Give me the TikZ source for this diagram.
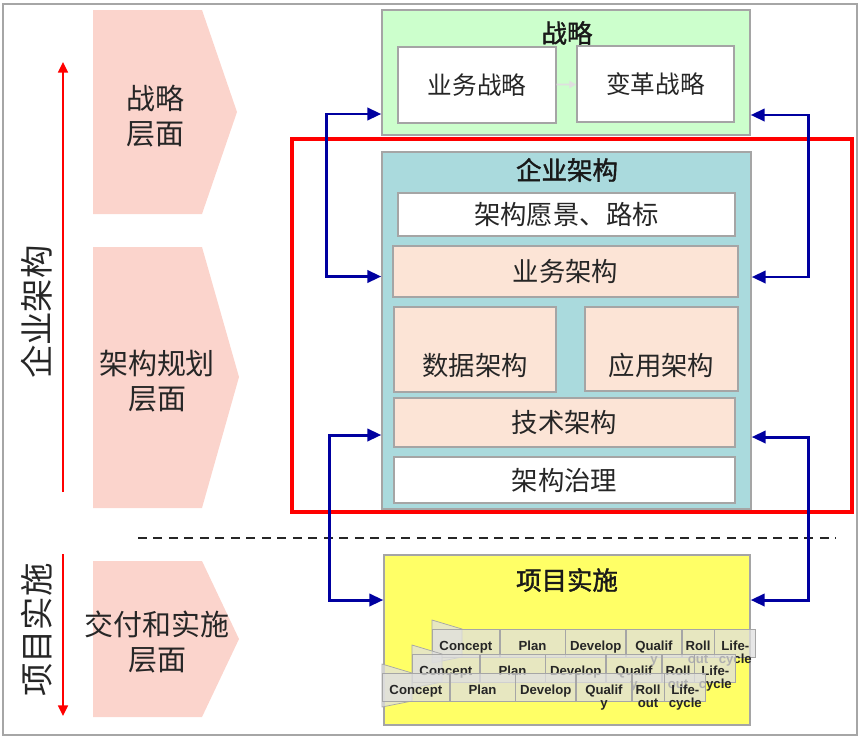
\documentclass[tikz,border=0pt]{standalone}
\usepackage{fontspec}
\setmainfont{Noto Sans CJK SC}
\newfontfamily\cjkbold[FakeBold=1.5]{Noto Sans CJK SC}
\newfontfamily\latin{Liberation Sans}
\usetikzlibrary{arrows.meta,positioning,calc}
\definecolor{chevpink}{RGB}{251,212,204}
\definecolor{stratgreen}{RGB}{204,255,204}
\definecolor{eateal}{RGB}{170,218,221}
\definecolor{layerpeach}{RGB}{252,228,214}
\definecolor{projyellow}{RGB}{255,255,102}
\definecolor{connblue}{RGB}{0,0,160}
\definecolor{boxgray}{RGB}{165,165,165}
\definecolor{cellfill}{RGB}{223,223,223}
\newcommand\two[2]{\begin{tabular}[t]{@{}c@{}}#1\\[-1.5pt]#2\end{tabular}}

\begin{document}
\begin{tikzpicture}[x=0.02cm, y=-0.02cm,
      chevtext/.style={align=center, font=\fontsize{16.5}{19.8}\selectfont, text=black!85},
      sidetext/.style={rotate=90, font=\fontsize{19}{22}\selectfont, text=black!85},
      box/.style={draw=boxgray, line width=0.8pt, inner sep=0pt},
      layer/.style={box, fill=layerpeach, font=\fontsize{15}{18}\selectfont, text=black!85},
      plain/.style={box, fill=white, font=\fontsize{15}{18}\selectfont, text=black!85},
      title/.style={font=\cjkbold\fontsize{14.5}{17}\selectfont, text=black!90},
      cell/.style={draw=gray!70, fill=cellfill, fill opacity=0.75, text opacity=1,
                   inner sep=0pt, minimum height=0.56cm,
                   text height=1.6ex, text depth=0pt, text=black!85,
                   font=\latin\bfseries\fontsize{7.5}{9}\selectfont},
      redarr/.style={red, line width=1.4pt, -{Triangle[length=6pt,width=5.5pt]}},
      conn/.style={connblue, line width=1.7pt,
                   {Triangle[length=8pt,width=7pt]}-{Triangle[length=8pt,width=7pt]}}
    ]
      \useasboundingbox (0,0) rectangle (865,744);
      \draw[gray!70, line width=0.6pt] (3,4) rectangle (857,735);

      % level chevrons on the left
      \fill[chevpink] (93,10) -- (202,10) -- (237,112) -- (202,214) -- (93,214) -- cycle;
      \fill[chevpink] (93,247) -- (202,247) -- (239,377) -- (202,508) -- (93,508) -- cycle;
      \fill[chevpink] (93,561) -- (202,561) -- (239,639) -- (202,717) -- (93,717) -- cycle;
      \node[chevtext] (lvStrat) at (155,116) {战略\\层面};
      \node[chevtext] (lvPlan) at (157,381) {架构规划\\层面};
      \node[chevtext] (lvDeliv) at (157,642) {交付和实施\\层面};

      % side arrows and labels
      \coordinate (eaTop) at (63,62);
      \coordinate (eaBot) at (63,492);
      \coordinate (pjTop) at (63,554);
      \coordinate (pjBot) at (63,716);
      \draw[redarr] (eaBot) -- (eaTop);
      \draw[redarr] (pjTop) -- (pjBot);
      \node[sidetext] (eaLbl) at (37,312) {企业架构};
      \node[sidetext] (pjLbl) at (37,630) {项目实施};

      % strategy
      \node[box, fill=stratgreen, minimum width=7.36cm, minimum height=2.5cm] (strat) at (566,72.5) {};
      \node[title] (stratT) at (567,33) {战略};
      \node[plain, font=\fontsize{14}{17}\selectfont, minimum width=3.16cm, minimum height=1.52cm] (yw) at (477,85) {业务战略};
      \node[plain, font=\fontsize{14}{17}\selectfont, minimum width=3.14cm, minimum height=1.52cm] (bg) at (655.5,84) {变革战略};
      \draw[gray!25, line width=1pt, -{Triangle[length=4pt,width=4pt]}] (yw) -- (bg);

      % enterprise architecture
      \node[box, fill=eateal, minimum width=7.38cm, minimum height=7.14cm] (ea) at (566.5,330.5) {};
      \node[title] (eaT) at (567,170) {企业架构};
      \node[plain, minimum width=6.74cm, minimum height=0.86cm] (vision) at (566.5,214.5) {架构愿景、路标};
      \node[layer, minimum width=6.9cm, minimum height=1.02cm] (ba) at (565.5,271.5) {业务架构};
      \node[layer, minimum width=3.24cm, minimum height=1.7cm] (da) at (475,349.5) {};
      \node[layer, minimum width=3.06cm, minimum height=1.68cm] (aa) at (661.5,349) {};
      \node[layer, draw=none, fill=none] (daT) at ($(da.south)+(0,-27)$) {数据架构};
      \node[layer, draw=none, fill=none] (aaT) at ($(aa.south)+(0,-26)$) {应用架构};
      \node[layer, minimum width=6.82cm, minimum height=0.98cm] (tech) at (564.5,422.5) {技术架构};
      \node[plain, minimum width=6.82cm, minimum height=0.92cm] (gov) at (564.5,480) {架构治理};

      \draw[red, line width=2.1pt] (292,139) rectangle (852,512);

      % project delivery
      \coordinate (dashL) at (138,538);
      \coordinate (dashR) at (836,538);
      \draw[black!85, line width=1.3pt, dash pattern=on 0.18cm off 0.13cm] (dashL) -- (dashR);
      \node[box, fill=projyellow, minimum width=7.32cm, minimum height=3.4cm] (proj) at (567,640) {};
      \node[title] (projT) at (567,580) {项目实施};
      \foreach \r/\xo/\yc in {1/432/643, 2/412/668, 3/382/687} {
        \filldraw[fill=cellfill, fill opacity=0.75, draw=gray!70] (\xo,\yc-23) -- (\xo+30,\yc-14) -- (\xo+30,\yc+14) -- (\xo,\yc+20) -- cycle;
        \node[cell, minimum width=1.34cm, anchor=west] (c\r) at (\xo,\yc) {Concept};
        \node[cell, minimum width=1.3cm, right=0pt of c\r] (p\r) {Plan};
        \node[cell, minimum width=1.2cm, right=0pt of p\r] (d\r) {Develop};
        \node[cell, minimum width=1.1cm, right=0pt of d\r] (q\r) {\two{Qualif}{y}};
        \node[cell, minimum width=0.64cm, right=0pt of q\r] (o\r) {\two{Roll}{out}};
        \node[cell, minimum width=0.82cm, right=0pt of o\r] (l\r) {\two{Life-}{cycle}};
      }

      % feedback connectors
      \draw[conn] ($(strat.west)+(0,41.5)$) -- ++(-55,0) |- ($(ea.west |- ba)+(0,5)$);
      \draw[conn] ($(ea.west |- tech)+(0,12.5)$) -- ++(-52,0) |- ($(proj.west)+(0,-40)$);
      \draw[conn] ($(strat.east)+(0,42.5)$) -- ++(58,0) |- ($(ea.east |- ba)+(0,5.5)$);
      \draw[conn] ($(ea.east |- tech)+(0,14.5)$) -- ++(57,0) |- ($(proj.east)+(0,-40)$);
    \end{tikzpicture}
\end{document}
